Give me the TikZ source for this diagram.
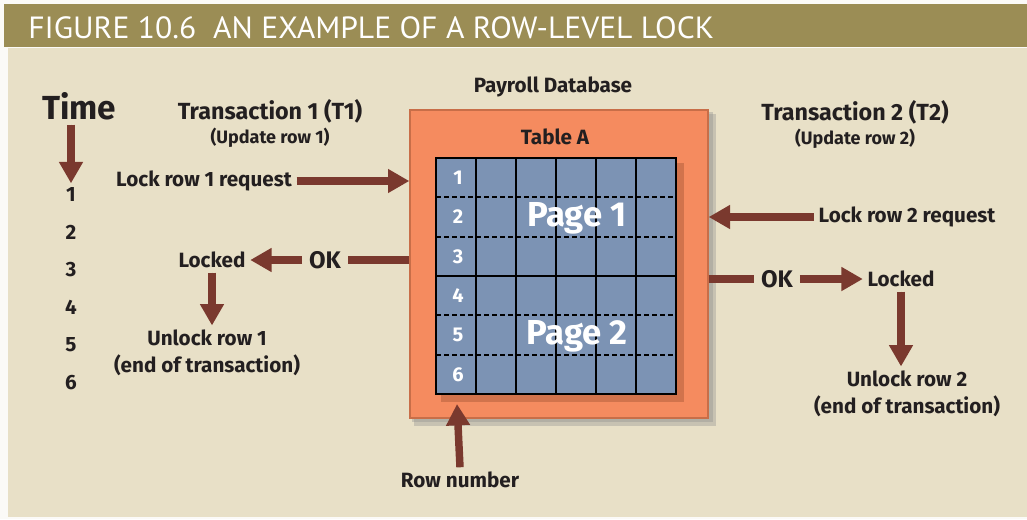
\documentclass[tikz,border=0pt]{standalone}
\usepackage{fontspec}
\setmainfont{Fira Sans}
\newfontfamily\titlefont{PT Sans}
\usetikzlibrary{arrows.meta,positioning,calc}

\definecolor{bandolive}{HTML}{9B8D55}
\definecolor{paper}{HTML}{E8E0C7}
\definecolor{tableorange}{HTML}{F58B5F}
\definecolor{orangedark}{HTML}{C86E48}
\definecolor{gridblue}{HTML}{7C93B4}
\definecolor{arrowred}{HTML}{7A392E}
\definecolor{ink}{HTML}{231F20}

\begin{document}
\begin{tikzpicture}[
        x=0.75pt, y=-0.75pt,
        >={Triangle[width=17pt,length=16pt]},
        every node/.style={text=ink, font=\bfseries\fontsize{15.5}{20}\selectfont}
    ]

    \tikzstyle{fat} = [draw=arrowred, fill=arrowred, line width=5.6pt, ->]
    \tikzstyle{fatline} = [draw=arrowred, line width=5.6pt]
    \tikzstyle{heading} = [font=\bfseries\fontsize{17.5}{19}\selectfont]
    \tikzstyle{sub} = [font=\bfseries\fontsize{13.5}{14}\selectfont]
    \tikzstyle{okword} = [font=\bfseries\fontsize{18}{18}\selectfont, inner xsep=5pt]
    \tikzstyle{step2} = [align=center]
    \tikzstyle{cellnum} = [text=white, font=\bfseries\fontsize{15}{15}\selectfont]
    \tikzstyle{pagename} = [text=white, font=\bfseries\fontsize{26}{26}\selectfont]

    \useasboundingbox (0,0) rectangle (1027,519);

    % background and title band
    \fill[white!85!paper] (0,0) rectangle (1027,519);
    \fill[paper] (8,48) rectangle (1027,517);
    \fill[bandolive] (4,4) rectangle (1027,47);
    \node[anchor=base west, text=white, font=\titlefont\fontsize{23}{23}\selectfont, xscale=1.03, inner sep=0]
        (title) at (28,38) {FIGURE 10.6\ \ AN EXAMPLE OF A ROW-LEVEL LOCK};

    % the table
    \fill[black!45, opacity=0.35] (414,114) rectangle (716,426);
    \fill[black!45, opacity=0.35] (412,112) rectangle (713,422);
    \node[draw=orangedark, fill=tableorange, line width=1pt, inner sep=0,
          minimum width=223.5pt, minimum height=231pt] (tbl) at (559,264) {};
    \fill[orangedark, opacity=0.8] (441,163) rectangle (684,402);
    \node[fill=gridblue, inner sep=0, minimum width=180pt, minimum height=177pt]
        (grid) at (556,276) {};
    \foreach \x in {476,516,556,596,636}
        \draw[black, line width=1.2pt] (\x,158) -- (\x,394);
    \foreach \y in {197.3,236.7,315.3,354.7}
        \draw[black, line width=1.4pt, dash pattern=on 3.5pt off 2.5pt] (436,\y) -- (676,\y);
    \draw[black, line width=1.2pt] (436,276) -- (676,276);
    \draw[black, line width=1.4pt] (grid.south west) rectangle (grid.north east);

    \foreach \r [evaluate=\r as \yy using 158+39.33*(\r-0.5)] in {1,...,6}
        \node[cellnum] (row\r) at (458,\yy) {\r};
    \node[pagename] (page1) at (577,218) {Page 1};
    \node[pagename] (page2) at (577,336) {Page 2};

    \node (dbname) at (553,87) {Payroll Database};
    \node (tablea) at (555,137) {Table A};

    % time axis
    \node[font=\bfseries\fontsize{25}{25}\selectfont] (time) at (79,106) {Time};
    \foreach \t [evaluate=\t as \yy using 195+37.5*(\t-1)] in {1,...,6}
        \node (t\t) at (71,\yy) {\t};
    \draw[fat] (time.south -| t1) -- (t1.north);

    % transaction 1
    \node[heading] (tr1) at (270,111) {Transaction 1 (T1)};
    \node[sub] (upd1) [below=-3pt of tr1] {(Update row 1)};
    \node (req1) at (204,181) {Lock row 1 request};
    \node[okword] (ok1) at (325,260) {OK};
    \node (lock1) at (212,260) {Locked};
    \node[step2] (unlock1) at (207,353) {Unlock row 1\\(end of transaction)};

    % transaction 2
    \node[heading] (tr2) at (855,112) {Transaction 2 (T2)};
    \node[sub] (upd2) [below=-3pt of tr2] {(Update row 2)};
    \node (req2) at (907,217) {Lock row 2 request};
    \node[okword] (ok2) at (777,279) {OK};
    \node (lock2) at (901,279) {Locked};
    \node[step2] (unlock2) at (907,394) {Unlock row 2\\(end of transaction)};

    % row number
    \node (rownum) at (460,480) {Row number};
    \coordinate (rowtip) at (457,404);

    \draw[fat] (req1.east) -- (req1 -| tbl.west);
    \draw[fatline] (ok1 -| tbl.west) -- (ok1.east);
    \draw[fat] (ok1.west) -- (lock1.east);
    \draw[fat] (lock1.south) -- (lock1.south |- unlock1.north);

    \draw[fat] (req2.west) -- (req2 -| tbl.east);
    \draw[fatline] (ok2 -| tbl.east) -- (ok2.west);
    \draw[fat] (ok2.east) -- (lock2.west);
    \draw[fat] (lock2.south) -- (lock2.south |- unlock2.north);

    \draw[fat] (rownum.north) -- (rowtip);

\end{tikzpicture}
\end{document}
